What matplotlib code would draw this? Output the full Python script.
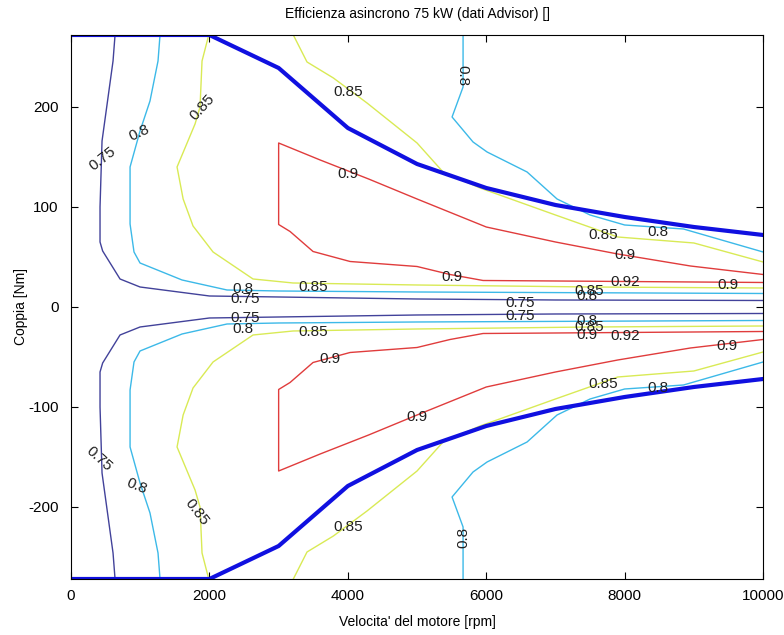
import matplotlib
matplotlib.use("Agg")
import matplotlib.pyplot as plt
import numpy as np

plt.rcParams['font.family'] = ['Liberation Sans', 'DejaVu Sans']
plt.rcParams['axes.unicode_minus'] = False

# curva di coppia massima (metà superiore, la inferiore è speculare)
speed_env = [0, 1000, 2000, 3000, 4000, 5000, 6000, 7000, 8000, 9000, 10000]
torque_env = [272, 272, 272, 239, 179, 143, 119, 102, 90, 80, 72]

# isolinee di rendimento (metà superiore)
speed_075 = [636, 607, 448, 419, 419, 457, 708, 997, 2000, 3000, 5000, 7000, 10000]
torque_075 = [272, 246, 166, 100, 65, 56, 28, 20, 11, 10, 8, 7, 6.5]

speed_080a = [1286, 1257, 1141, 997, 853, 853, 910, 997, 1604, 2254, 3000, 5000, 10000]
torque_080a = [272, 246, 206, 176, 140, 83, 55, 44, 27, 17, 16, 15, 13.5]

speed_080b = [5665, 5665, 5506, 5809, 6012, 6590, 7023, 7500, 8000, 8850, 10000]
torque_080b = [272, 220, 190, 165, 155, 135, 108, 92, 82, 78, 55]

speed_085a = [1990, 1893, 1864, 1792, 1532, 1620, 1763, 2052, 2630, 3208, 5000, 7500, 10000]
torque_085a = [272, 246, 200, 183, 140, 108, 81, 55, 28, 24, 22, 20, 19]

speed_085b = [3212, 3410, 3791, 4277, 5000, 5376, 5910, 7000, 7900, 9000, 10000]
torque_085b = [272, 245, 229, 204, 164, 135, 119, 92, 70, 64, 45]

speed_090 = [10000, 8950, 7900, 7000, 6000, 5000, 4300, 3600, 3000, 3000, 3165,
             3497, 4032, 5000, 5477, 5954, 7000, 10000]
torque_090 = [32.5, 41, 53, 65, 80, 108, 128, 147, 164, 82.5, 75.5,
              55.5, 45.5, 40.5, 32.5, 26.5, 26, 24.5]

levels = [
    (speed_075, torque_075, '#42429a'),
    (speed_080a, torque_080a, '#3cb9e8'),
    (speed_080b, torque_080b, '#3cb9e8'),
    (speed_085a, torque_085a, '#d9ea55'),
    (speed_085b, torque_085b, '#d9ea55'),
    (speed_090, torque_090, '#e03c3c'),
]

# etichette: testo, velocità, coppia, rotazione
labels = [
    ("0.75", 462, 148, 38), ("0.8", 983, 174, 25), ("0.85", 1893, 200, 48),
    ("0.8", 5650, 231, -90), ("0.85", 4003, 215, 0), ("0.9", 4003, 133, 0),
    ("0.85", 7688, 72, 0), ("0.8", 8482, 75, 0), ("0.9", 8006, 52, 0),
    ("0.9", 9494, 22, 0), ("0.92", 8006, 25, 0), ("0.8", 2485, 18, 0),
    ("0.75", 2514, 8, 0), ("0.85", 3497, 20, 0), ("0.9", 5506, 30, 0),
    ("0.75", 6488, 4, 0), ("0.85", 7486, 16, 0), ("0.8", 7457, 11, 0),
    ("0.75", 2514, -11, 0), ("0.8", 2485, -22, 0), ("0.85", 3497, -25, 0),
    ("0.9", 3743, -52, 0), ("0.75", 6488, -9, 0), ("0.8", 7457, -14, 0),
    ("0.85", 7486, -20, 0), ("0.9", 7457, -28, 0), ("0.92", 8006, -29, 0),
    ("0.9", 9480, -39, 0), ("0.85", 7688, -77, 0), ("0.8", 8482, -81, 0),
    ("0.9", 5000, -110, 0), ("0.85", 4003, -220, 0), ("0.8", 5665, -230, 90),
    ("0.75", 404, -152, -42), ("0.8", 954, -179, -22), ("0.85", 1821, -205, -52),
]

fig = plt.figure(figsize=(7.84, 6.35), dpi=100)
ax = fig.add_axes([0.0906, 0.0882, 0.8827, 0.8567])

for sp, tq, col in levels:
    sp = np.array(sp)
    tq = np.array(tq)
    ax.plot(sp, tq, color=col, lw=1.0)
    ax.plot(sp, -tq, color=col, lw=1.0)

ax.plot(speed_env, torque_env, color='#1010e0', lw=3)
ax.plot(speed_env, -np.array(torque_env), color='#1010e0', lw=3)

for txt, sp, tq, rot in labels:
    ax.text(sp, tq, txt, fontsize=11, ha='center', va='center', rotation=rot,
            rotation_mode='anchor', color='#202020')

ax.set_xlim(0, 10000)
ax.set_ylim(-272, 272)
ax.set_xticks([0, 2000, 4000, 6000, 8000, 10000])
ax.set_yticks([-200, -100, 0, 100, 200])
ax.tick_params(direction='in', top=True, right=True, length=5, width=0.8,
               labelsize=11)
ax.tick_params(axis='x', pad=7)
ax.tick_params(axis='y', pad=9)
for s in ax.spines.values():
    s.set_linewidth(0.8)

ax.set_title("Efficienza asincrono 75 kW (dati Advisor) []", fontsize=10, pad=12)
ax.set_xlabel("Velocita' del motore [rpm]", fontsize=10, labelpad=9)
ax.set_ylabel("Coppia [Nm]", fontsize=10, labelpad=0)

fig.savefig("out.png", dpi=100)
